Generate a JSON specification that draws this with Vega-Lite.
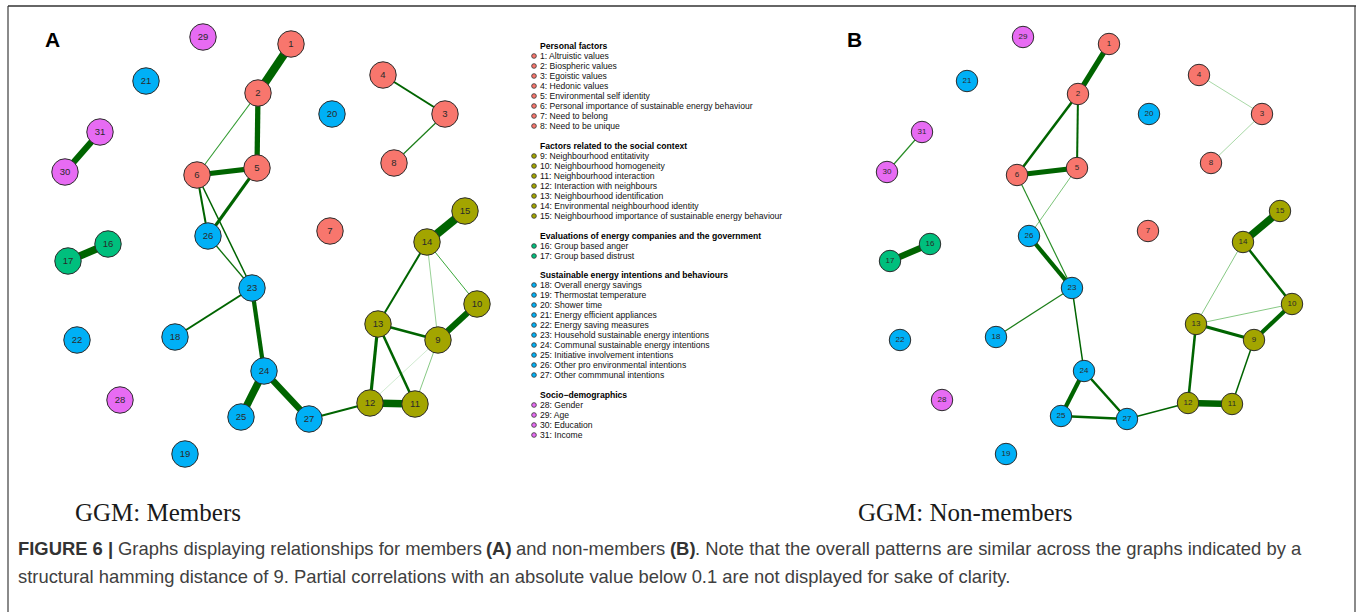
{
  "$schema": "https://vega.github.io/schema/vega-lite/v6.json",
  "width": 1360,
  "height": 612,
  "padding": 0,
  "autosize": {"type": "none"},
  "background": "white",
  "config": {"view": {"stroke": null}},
  "datasets": {
    "nodes": [
      {"k":"A1","p":"A","n":"1","g":"Personal factors","x":291,"y":44},
      {"k":"A2","p":"A","n":"2","g":"Personal factors","x":258,"y":93},
      {"k":"A3","p":"A","n":"3","g":"Personal factors","x":445,"y":114},
      {"k":"A4","p":"A","n":"4","g":"Personal factors","x":383,"y":75},
      {"k":"A5","p":"A","n":"5","g":"Personal factors","x":257,"y":168},
      {"k":"A6","p":"A","n":"6","g":"Personal factors","x":197,"y":175},
      {"k":"A7","p":"A","n":"7","g":"Personal factors","x":330,"y":231},
      {"k":"A8","p":"A","n":"8","g":"Personal factors","x":394,"y":163},
      {"k":"A9","p":"A","n":"9","g":"Factors related to the social context","x":438,"y":340},
      {"k":"A10","p":"A","n":"10","g":"Factors related to the social context","x":477,"y":304},
      {"k":"A11","p":"A","n":"11","g":"Factors related to the social context","x":415,"y":404},
      {"k":"A12","p":"A","n":"12","g":"Factors related to the social context","x":370,"y":403},
      {"k":"A13","p":"A","n":"13","g":"Factors related to the social context","x":378,"y":324},
      {"k":"A14","p":"A","n":"14","g":"Factors related to the social context","x":427,"y":242},
      {"k":"A15","p":"A","n":"15","g":"Factors related to the social context","x":465,"y":211},
      {"k":"A16","p":"A","n":"16","g":"Evaluations of energy companies and the government","x":108,"y":244},
      {"k":"A17","p":"A","n":"17","g":"Evaluations of energy companies and the government","x":68,"y":261},
      {"k":"A18","p":"A","n":"18","g":"Sustainable energy intentions and behaviours","x":175,"y":337},
      {"k":"A19","p":"A","n":"19","g":"Sustainable energy intentions and behaviours","x":185,"y":454},
      {"k":"A20","p":"A","n":"20","g":"Sustainable energy intentions and behaviours","x":332,"y":114},
      {"k":"A21","p":"A","n":"21","g":"Sustainable energy intentions and behaviours","x":146,"y":81},
      {"k":"A22","p":"A","n":"22","g":"Sustainable energy intentions and behaviours","x":77,"y":340},
      {"k":"A23","p":"A","n":"23","g":"Sustainable energy intentions and behaviours","x":252,"y":288},
      {"k":"A24","p":"A","n":"24","g":"Sustainable energy intentions and behaviours","x":264,"y":371},
      {"k":"A25","p":"A","n":"25","g":"Sustainable energy intentions and behaviours","x":241,"y":417},
      {"k":"A26","p":"A","n":"26","g":"Sustainable energy intentions and behaviours","x":208,"y":236},
      {"k":"A27","p":"A","n":"27","g":"Sustainable energy intentions and behaviours","x":309,"y":419},
      {"k":"A28","p":"A","n":"28","g":"Socio−demographics","x":120,"y":400},
      {"k":"A29","p":"A","n":"29","g":"Socio−demographics","x":203,"y":37},
      {"k":"A30","p":"A","n":"30","g":"Socio−demographics","x":65,"y":172},
      {"k":"A31","p":"A","n":"31","g":"Socio−demographics","x":100,"y":132},
      {"k":"B1","p":"B","n":"1","g":"Personal factors","x":1109,"y":44},
      {"k":"B2","p":"B","n":"2","g":"Personal factors","x":1078,"y":94},
      {"k":"B3","p":"B","n":"3","g":"Personal factors","x":1262,"y":114},
      {"k":"B4","p":"B","n":"4","g":"Personal factors","x":1199,"y":75},
      {"k":"B5","p":"B","n":"5","g":"Personal factors","x":1077,"y":168},
      {"k":"B6","p":"B","n":"6","g":"Personal factors","x":1017,"y":175},
      {"k":"B7","p":"B","n":"7","g":"Personal factors","x":1148,"y":231},
      {"k":"B8","p":"B","n":"8","g":"Personal factors","x":1211,"y":163},
      {"k":"B9","p":"B","n":"9","g":"Factors related to the social context","x":1254,"y":340},
      {"k":"B10","p":"B","n":"10","g":"Factors related to the social context","x":1292,"y":304},
      {"k":"B11","p":"B","n":"11","g":"Factors related to the social context","x":1232,"y":404},
      {"k":"B12","p":"B","n":"12","g":"Factors related to the social context","x":1188,"y":403},
      {"k":"B13","p":"B","n":"13","g":"Factors related to the social context","x":1196,"y":324},
      {"k":"B14","p":"B","n":"14","g":"Factors related to the social context","x":1243,"y":242},
      {"k":"B15","p":"B","n":"15","g":"Factors related to the social context","x":1280,"y":211},
      {"k":"B16","p":"B","n":"16","g":"Evaluations of energy companies and the government","x":930,"y":244},
      {"k":"B17","p":"B","n":"17","g":"Evaluations of energy companies and the government","x":890,"y":261},
      {"k":"B18","p":"B","n":"18","g":"Sustainable energy intentions and behaviours","x":996,"y":337},
      {"k":"B19","p":"B","n":"19","g":"Sustainable energy intentions and behaviours","x":1006,"y":454},
      {"k":"B20","p":"B","n":"20","g":"Sustainable energy intentions and behaviours","x":1149,"y":114},
      {"k":"B21","p":"B","n":"21","g":"Sustainable energy intentions and behaviours","x":967,"y":81},
      {"k":"B22","p":"B","n":"22","g":"Sustainable energy intentions and behaviours","x":900,"y":340},
      {"k":"B23","p":"B","n":"23","g":"Sustainable energy intentions and behaviours","x":1072,"y":288},
      {"k":"B24","p":"B","n":"24","g":"Sustainable energy intentions and behaviours","x":1084,"y":371},
      {"k":"B25","p":"B","n":"25","g":"Sustainable energy intentions and behaviours","x":1061,"y":416},
      {"k":"B26","p":"B","n":"26","g":"Sustainable energy intentions and behaviours","x":1029,"y":236},
      {"k":"B27","p":"B","n":"27","g":"Sustainable energy intentions and behaviours","x":1127,"y":419},
      {"k":"B28","p":"B","n":"28","g":"Socio−demographics","x":942,"y":400},
      {"k":"B29","p":"B","n":"29","g":"Socio−demographics","x":1023,"y":37},
      {"k":"B30","p":"B","n":"30","g":"Socio−demographics","x":887,"y":172},
      {"k":"B31","p":"B","n":"31","g":"Socio−demographics","x":922,"y":132}
    ],
    "edges": [
      {"a":"A1","b":"A2","w":0.54},
      {"a":"A2","b":"A5","w":0.35},
      {"a":"A2","b":"A6","w":0.105},
      {"a":"A5","b":"A6","w":0.35},
      {"a":"A5","b":"A26","w":0.225},
      {"a":"A6","b":"A26","w":0.16},
      {"a":"A6","b":"A23","w":0.13},
      {"a":"A26","b":"A23","w":0.12},
      {"a":"A4","b":"A3","w":0.16},
      {"a":"A3","b":"A8","w":0.115},
      {"a":"A30","b":"A31","w":0.41},
      {"a":"A16","b":"A17","w":0.48},
      {"a":"A15","b":"A14","w":0.54},
      {"a":"A14","b":"A13","w":0.16},
      {"a":"A14","b":"A9","w":0.085},
      {"a":"A14","b":"A10","w":0.1},
      {"a":"A10","b":"A9","w":0.41},
      {"a":"A13","b":"A9","w":0.19},
      {"a":"A13","b":"A12","w":0.225},
      {"a":"A13","b":"A11","w":0.19},
      {"a":"A9","b":"A11","w":0.088},
      {"a":"A9","b":"A12","w":0.075},
      {"a":"A12","b":"A11","w":0.48},
      {"a":"A12","b":"A27","w":0.16},
      {"a":"A23","b":"A18","w":0.16},
      {"a":"A23","b":"A24","w":0.29},
      {"a":"A24","b":"A25","w":0.48},
      {"a":"A24","b":"A27","w":0.41},
      {"a":"B1","b":"B2","w":0.35},
      {"a":"B2","b":"B6","w":0.19},
      {"a":"B2","b":"B5","w":0.16},
      {"a":"B6","b":"B5","w":0.35},
      {"a":"B5","b":"B26","w":0.09},
      {"a":"B6","b":"B23","w":0.11},
      {"a":"B26","b":"B23","w":0.29},
      {"a":"B4","b":"B3","w":0.082},
      {"a":"B3","b":"B8","w":0.082},
      {"a":"B31","b":"B30","w":0.11},
      {"a":"B16","b":"B17","w":0.41},
      {"a":"B15","b":"B14","w":0.48},
      {"a":"B14","b":"B13","w":0.088},
      {"a":"B14","b":"B10","w":0.19},
      {"a":"B13","b":"B10","w":0.088},
      {"a":"B13","b":"B9","w":0.225},
      {"a":"B10","b":"B9","w":0.29},
      {"a":"B13","b":"B12","w":0.19},
      {"a":"B9","b":"B11","w":0.13},
      {"a":"B12","b":"B11","w":0.41},
      {"a":"B12","b":"B27","w":0.13},
      {"a":"B23","b":"B18","w":0.115},
      {"a":"B23","b":"B24","w":0.13},
      {"a":"B24","b":"B25","w":0.29},
      {"a":"B24","b":"B27","w":0.19},
      {"a":"B25","b":"B27","w":0.19}
    ],
    "legend": [
      {"t":"Personal factors","kind":"h","x":540,"y":46},
      {"t":"1: Altruistic values","kind":"i","g":"Personal factors","x":540,"y":56},
      {"t":"2: Biospheric values","kind":"i","g":"Personal factors","x":540,"y":66},
      {"t":"3: Egoistic values","kind":"i","g":"Personal factors","x":540,"y":76},
      {"t":"4: Hedonic values","kind":"i","g":"Personal factors","x":540,"y":86},
      {"t":"5: Environmental self identity","kind":"i","g":"Personal factors","x":540,"y":96},
      {"t":"6: Personal importance of sustainable energy behaviour","kind":"i","g":"Personal factors","x":540,"y":106},
      {"t":"7: Need to belong","kind":"i","g":"Personal factors","x":540,"y":116},
      {"t":"8: Need to be unique","kind":"i","g":"Personal factors","x":540,"y":126},
      {"t":"Factors related to the social context","kind":"h","x":540,"y":146},
      {"t":"9: Neighbourhood entitativity","kind":"i","g":"Factors related to the social context","x":540,"y":156},
      {"t":"10: Neighbourhood homogeneity","kind":"i","g":"Factors related to the social context","x":540,"y":166},
      {"t":"11: Neighbourhood interaction","kind":"i","g":"Factors related to the social context","x":540,"y":176},
      {"t":"12: Interaction with neighbours","kind":"i","g":"Factors related to the social context","x":540,"y":186},
      {"t":"13: Neighbourhood identification","kind":"i","g":"Factors related to the social context","x":540,"y":196},
      {"t":"14: Environmental neighbourhood identity","kind":"i","g":"Factors related to the social context","x":540,"y":206},
      {"t":"15: Neighbourhood importance of sustainable energy behaviour","kind":"i","g":"Factors related to the social context","x":540,"y":216},
      {"t":"Evaluations of energy companies and the government","kind":"h","x":540,"y":236},
      {"t":"16: Group based anger","kind":"i","g":"Evaluations of energy companies and the government","x":540,"y":246},
      {"t":"17: Group based distrust","kind":"i","g":"Evaluations of energy companies and the government","x":540,"y":256},
      {"t":"Sustainable energy intentions and behaviours","kind":"h","x":540,"y":275},
      {"t":"18: Overall energy savings","kind":"i","g":"Sustainable energy intentions and behaviours","x":540,"y":285},
      {"t":"19: Thermostat temperature","kind":"i","g":"Sustainable energy intentions and behaviours","x":540,"y":295},
      {"t":"20: Shower time","kind":"i","g":"Sustainable energy intentions and behaviours","x":540,"y":305},
      {"t":"21: Energy efficient appliances","kind":"i","g":"Sustainable energy intentions and behaviours","x":540,"y":315},
      {"t":"22: Energy saving measures","kind":"i","g":"Sustainable energy intentions and behaviours","x":540,"y":325},
      {"t":"23: Household sustainable energy intentions","kind":"i","g":"Sustainable energy intentions and behaviours","x":540,"y":335},
      {"t":"24: Communal sustainable energy intentions","kind":"i","g":"Sustainable energy intentions and behaviours","x":540,"y":345},
      {"t":"25: Initiative involvement intentions","kind":"i","g":"Sustainable energy intentions and behaviours","x":540,"y":355},
      {"t":"26: Other pro environmental intentions","kind":"i","g":"Sustainable energy intentions and behaviours","x":540,"y":365},
      {"t":"27: Other commmunal intentions","kind":"i","g":"Sustainable energy intentions and behaviours","x":540,"y":375},
      {"t":"Socio−demographics","kind":"h","x":540,"y":395},
      {"t":"28: Gender","kind":"i","g":"Socio−demographics","x":540,"y":405},
      {"t":"29: Age","kind":"i","g":"Socio−demographics","x":540,"y":415},
      {"t":"30: Education","kind":"i","g":"Socio−demographics","x":540,"y":425},
      {"t":"31: Income","kind":"i","g":"Socio−demographics","x":540,"y":435}
    ],
    "caption": [
      {"t":"FIGURE 6 |","b":"y","x":18,"y":549},
      {"t":"Graphs displaying relationships for members","b":"n","x":118,"y":549},
      {"t":"(A)","b":"y","x":486,"y":549},
      {"t":"and non-members","b":"n","x":516,"y":549},
      {"t":"(B)","b":"y","x":670,"y":549},
      {"t":". Note that the overall patterns are similar across the graphs indicated by a","b":"n","x":695,"y":549},
      {"t":"structural hamming distance of 9. Partial correlations with an absolute value below 0.1 are not displayed for sake of clarity.","b":"n","x":18,"y":577}
    ],
    "titles": [
      {"t":"GGM: Members","x":75,"y":513},
      {"t":"GGM: Non-members","x":858,"y":513}
    ],
    "letters": [
      {"t":"A","x":45,"y":41},
      {"t":"B","x":847,"y":41}
    ],
    "frame": [
      {"side":"top","x":8,"y":6,"x2":1356,"y2":6},
      {"side":"left","x":8,"y":6,"x2":8,"y2":612},
      {"side":"right","x":1355,"y":6,"x2":1355,"y2":612}
    ]
  },
  "resolve": {"scale": {"size": "independent", "color": "independent", "fill": "independent", "strokeWidth": "independent"}},
  "layer": [
    {
      "data": {"name": "frame"},
      "transform": [{"filter": "datum.side !== 'top'"}],
      "mark": {"type": "rule", "color": "#8a8a8a", "strokeWidth": 2},
      "encoding": {
        "x": {"field": "x", "type": "quantitative", "scale": {"domain": [0, 1360], "nice": false, "zero": false}, "axis": null},
        "y": {"field": "y", "type": "quantitative", "scale": {"domain": [0, 612], "nice": false, "zero": false, "reverse": true}, "axis": null},
        "x2": {"field": "x2"},
        "y2": {"field": "y2"}
      }
    },
    {
      "data": {"name": "frame"},
      "transform": [{"filter": "datum.side === 'top'"}],
      "mark": {"type": "rule", "color": "#333333", "strokeWidth": 1.5},
      "encoding": {
        "x": {"field": "x", "type": "quantitative", "scale": {"domain": [0, 1360], "nice": false, "zero": false}, "axis": null},
        "y": {"field": "y", "type": "quantitative", "scale": {"domain": [0, 612], "nice": false, "zero": false, "reverse": true}, "axis": null},
        "x2": {"field": "x2"},
        "y2": {"field": "y2"}
      }
    },
    {
      "data": {"name": "edges"},
      "transform": [
        {"lookup": "a", "from": {"data": {"name": "nodes"}, "key": "k", "fields": ["x", "y"]}, "as": ["xa", "ya"]},
        {"lookup": "b", "from": {"data": {"name": "nodes"}, "key": "k", "fields": ["x", "y"]}, "as": ["xb", "yb"]}
      ],
      "mark": {"type": "rule", "strokeCap": "butt"},
      "encoding": {
        "x": {"field": "xa", "type": "quantitative", "scale": {"domain": [0, 1360], "nice": false, "zero": false}, "axis": null},
        "y": {"field": "ya", "type": "quantitative", "scale": {"domain": [0, 612], "nice": false, "zero": false, "reverse": true}, "axis": null},
        "x2": {"field": "xb"},
        "y2": {"field": "yb"},
        "strokeWidth": {"field": "w", "type": "quantitative", "scale": {"domain": [0.1, 0.54], "range": [1, 8.5], "clamp": true}, "legend": null},
        "color": {"field": "w", "type": "quantitative", "scale": {"domain": [0.07, 0.1, 0.125], "range": ["#eef8ee", "#3aa83a", "#006400"], "clamp": true}, "legend": null},
        "order": {"field": "w", "type": "quantitative"}
      }
    },
    {
      "data": {"name": "nodes"},
      "transform": [{"filter": "datum.p === 'A'"}],
      "mark": {"type": "point", "shape": "circle", "filled": true, "stroke": "#2b2b2b", "strokeWidth": 1, "opacity": 1, "size": 700},
      "encoding": {
        "x": {"field": "x", "type": "quantitative", "scale": {"domain": [0, 1360], "nice": false, "zero": false}, "axis": null},
        "y": {"field": "y", "type": "quantitative", "scale": {"domain": [0, 612], "nice": false, "zero": false, "reverse": true}, "axis": null},
        "fill": {"field": "g", "type": "nominal", "scale": {"domain": ["Personal factors", "Factors related to the social context", "Evaluations of energy companies and the government", "Sustainable energy intentions and behaviours", "Socio−demographics"], "range": ["#F8766D", "#A3A500", "#00BF7D", "#00B0F6", "#E76BF3"]}, "legend": null}
      }
    },
    {
      "data": {"name": "nodes"},
      "transform": [{"filter": "datum.p === 'B'"}],
      "mark": {"type": "point", "shape": "circle", "filled": true, "stroke": "#2b2b2b", "strokeWidth": 1, "opacity": 1, "size": 460},
      "encoding": {
        "x": {"field": "x", "type": "quantitative", "scale": {"domain": [0, 1360], "nice": false, "zero": false}, "axis": null},
        "y": {"field": "y", "type": "quantitative", "scale": {"domain": [0, 612], "nice": false, "zero": false, "reverse": true}, "axis": null},
        "fill": {"field": "g", "type": "nominal", "scale": {"domain": ["Personal factors", "Factors related to the social context", "Evaluations of energy companies and the government", "Sustainable energy intentions and behaviours", "Socio−demographics"], "range": ["#F8766D", "#A3A500", "#00BF7D", "#00B0F6", "#E76BF3"]}, "legend": null}
      }
    },
    {
      "data": {"name": "nodes"},
      "transform": [{"filter": "datum.p === 'A'"}],
      "mark": {"type": "text", "font": "Liberation Sans", "fontSize": 9.5, "color": "#2a2a2a", "align": "center", "baseline": "middle"},
      "encoding": {
        "x": {"field": "x", "type": "quantitative", "scale": {"domain": [0, 1360], "nice": false, "zero": false}, "axis": null},
        "y": {"field": "y", "type": "quantitative", "scale": {"domain": [0, 612], "nice": false, "zero": false, "reverse": true}, "axis": null},
        "text": {"field": "n"}
      }
    },
    {
      "data": {"name": "nodes"},
      "transform": [{"filter": "datum.p === 'B'"}],
      "mark": {"type": "text", "font": "Liberation Sans", "fontSize": 8, "color": "#2a2a2a", "align": "center", "baseline": "middle"},
      "encoding": {
        "x": {"field": "x", "type": "quantitative", "scale": {"domain": [0, 1360], "nice": false, "zero": false}, "axis": null},
        "y": {"field": "y", "type": "quantitative", "scale": {"domain": [0, 612], "nice": false, "zero": false, "reverse": true}, "axis": null},
        "text": {"field": "n"}
      }
    },
    {
      "data": {"name": "legend"},
      "transform": [{"filter": "datum.kind === 'i'"}],
      "mark": {"type": "point", "shape": "circle", "filled": true, "stroke": "#333333", "strokeWidth": 0.8, "size": 22, "opacity": 1, "xOffset": -6},
      "encoding": {
        "x": {"field": "x", "type": "quantitative", "scale": {"domain": [0, 1360], "nice": false, "zero": false}, "axis": null},
        "y": {"field": "y", "type": "quantitative", "scale": {"domain": [0, 612], "nice": false, "zero": false, "reverse": true}, "axis": null},
        "fill": {"field": "g", "type": "nominal", "scale": {"domain": ["Personal factors", "Factors related to the social context", "Evaluations of energy companies and the government", "Sustainable energy intentions and behaviours", "Socio−demographics"], "range": ["#F8766D", "#A3A500", "#00BF7D", "#00B0F6", "#E76BF3"]}, "legend": null}
      }
    },
    {
      "data": {"name": "legend"},
      "transform": [{"filter": "datum.kind === 'i'"}],
      "mark": {"type": "text", "font": "Liberation Sans", "fontSize": 8.6, "color": "#111111", "align": "left", "baseline": "middle"},
      "encoding": {
        "x": {"field": "x", "type": "quantitative", "scale": {"domain": [0, 1360], "nice": false, "zero": false}, "axis": null},
        "y": {"field": "y", "type": "quantitative", "scale": {"domain": [0, 612], "nice": false, "zero": false, "reverse": true}, "axis": null},
        "text": {"field": "t"}
      }
    },
    {
      "data": {"name": "legend"},
      "transform": [{"filter": "datum.kind === 'h'"}],
      "mark": {"type": "text", "font": "Liberation Sans", "fontSize": 8.6, "fontWeight": "bold", "color": "#000000", "align": "left", "baseline": "middle"},
      "encoding": {
        "x": {"field": "x", "type": "quantitative", "scale": {"domain": [0, 1360], "nice": false, "zero": false}, "axis": null},
        "y": {"field": "y", "type": "quantitative", "scale": {"domain": [0, 612], "nice": false, "zero": false, "reverse": true}, "axis": null},
        "text": {"field": "t"}
      }
    },
    {
      "data": {"name": "letters"},
      "mark": {"type": "text", "font": "Liberation Sans", "fontSize": 21, "fontWeight": "bold", "color": "#000000", "align": "left", "baseline": "middle"},
      "encoding": {
        "x": {"field": "x", "type": "quantitative", "scale": {"domain": [0, 1360], "nice": false, "zero": false}, "axis": null},
        "y": {"field": "y", "type": "quantitative", "scale": {"domain": [0, 612], "nice": false, "zero": false, "reverse": true}, "axis": null},
        "text": {"field": "t"}
      }
    },
    {
      "data": {"name": "titles"},
      "mark": {"type": "text", "font": "Liberation Serif", "fontSize": 25, "color": "#1a1a1a", "align": "left", "baseline": "middle"},
      "encoding": {
        "x": {"field": "x", "type": "quantitative", "scale": {"domain": [0, 1360], "nice": false, "zero": false}, "axis": null},
        "y": {"field": "y", "type": "quantitative", "scale": {"domain": [0, 612], "nice": false, "zero": false, "reverse": true}, "axis": null},
        "text": {"field": "t"}
      }
    },
    {
      "data": {"name": "caption"},
      "transform": [{"filter": "datum.b === 'y'"}],
      "mark": {"type": "text", "font": "Liberation Sans", "fontSize": 18.4, "fontWeight": "bold", "color": "#333333", "align": "left", "baseline": "middle"},
      "encoding": {
        "x": {"field": "x", "type": "quantitative", "scale": {"domain": [0, 1360], "nice": false, "zero": false}, "axis": null},
        "y": {"field": "y", "type": "quantitative", "scale": {"domain": [0, 612], "nice": false, "zero": false, "reverse": true}, "axis": null},
        "text": {"field": "t"}
      }
    },
    {
      "data": {"name": "caption"},
      "transform": [{"filter": "datum.b === 'n'"}],
      "mark": {"type": "text", "font": "Liberation Sans", "fontSize": 18.4, "color": "#404040", "align": "left", "baseline": "middle"},
      "encoding": {
        "x": {"field": "x", "type": "quantitative", "scale": {"domain": [0, 1360], "nice": false, "zero": false}, "axis": null},
        "y": {"field": "y", "type": "quantitative", "scale": {"domain": [0, 612], "nice": false, "zero": false, "reverse": true}, "axis": null},
        "text": {"field": "t"}
      }
    }
  ]
}
